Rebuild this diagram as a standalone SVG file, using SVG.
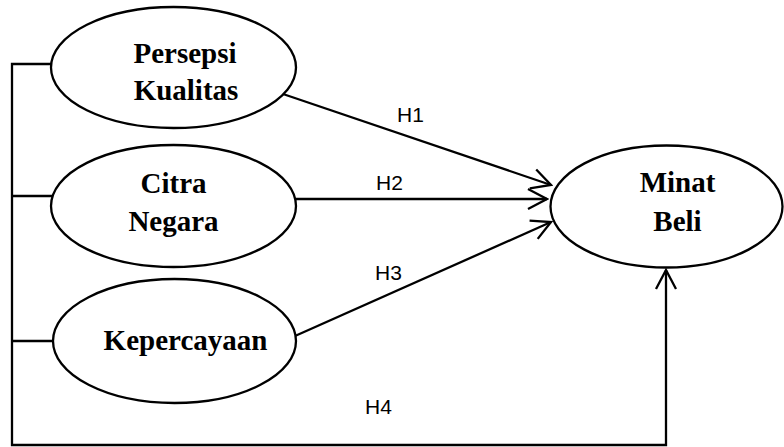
<svg xmlns="http://www.w3.org/2000/svg" width="784" height="447" viewBox="0 0 784 447">
<defs>
<style>
.node ellipse{fill:#fff;stroke:#000;stroke-width:2.3}
.lbl{font-family:"Liberation Serif","Times New Roman",serif;font-weight:bold;font-size:29px;fill:#000;text-anchor:middle}
.h{font-family:"Liberation Sans",Arial,sans-serif;font-size:21px;fill:#000}
.c line,.c polyline{stroke:#000;stroke-width:2.3;fill:none}
</style>
<marker id="arr" viewBox="0 0 24 24" refX="22" refY="12" markerWidth="24" markerHeight="24" markerUnits="userSpaceOnUse" orient="auto">
<polyline points="3,2 22,12 3,22" fill="none" stroke="#000" stroke-width="2.3"/>
</marker>
</defs>
<rect width="784" height="447" fill="#fff"/>
<g class="c" id="connectors">
<polyline points="51,64 12,64 12,445 666,445 666,270" marker-end="url(#arr)"/>
<line x1="12" y1="196" x2="52" y2="196"/>
<line x1="12" y1="341" x2="52" y2="341"/>
<line x1="283" y1="94" x2="551" y2="185" marker-end="url(#arr)"/>
<line x1="296" y1="199" x2="547" y2="199" marker-end="url(#arr)"/>
<line x1="295" y1="336" x2="551" y2="222" marker-end="url(#arr)"/>
</g>
<g id="n1" class="node">
<ellipse cx="173.5" cy="67.5" rx="122.5" ry="60.5"/>
<text class="lbl" x="185" y="63">Persepsi</text>
<text class="lbl" x="186" y="100">Kualitas</text>
</g>
<g id="n2" class="node">
<ellipse cx="173.5" cy="206" rx="122.5" ry="61"/>
<text class="lbl" x="173.5" y="193">Citra</text>
<text class="lbl" x="173.5" y="231">Negara</text>
</g>
<g id="n3" class="node">
<ellipse cx="174.5" cy="341" rx="121.5" ry="62"/>
<text class="lbl" x="185.5" y="350">Kepercayaan</text>
</g>
<g id="n4" class="node">
<ellipse cx="666.5" cy="206.5" rx="116" ry="61"/>
<text class="lbl" x="677.5" y="192">Minat</text>
<text class="lbl" x="677.5" y="231">Beli</text>
</g>
<g id="labels">
<text class="h" x="397" y="122">H1</text>
<text class="h" x="376" y="190">H2</text>
<text class="h" x="375" y="280">H3</text>
<text class="h" x="365" y="414">H4</text>
</g>
</svg>
